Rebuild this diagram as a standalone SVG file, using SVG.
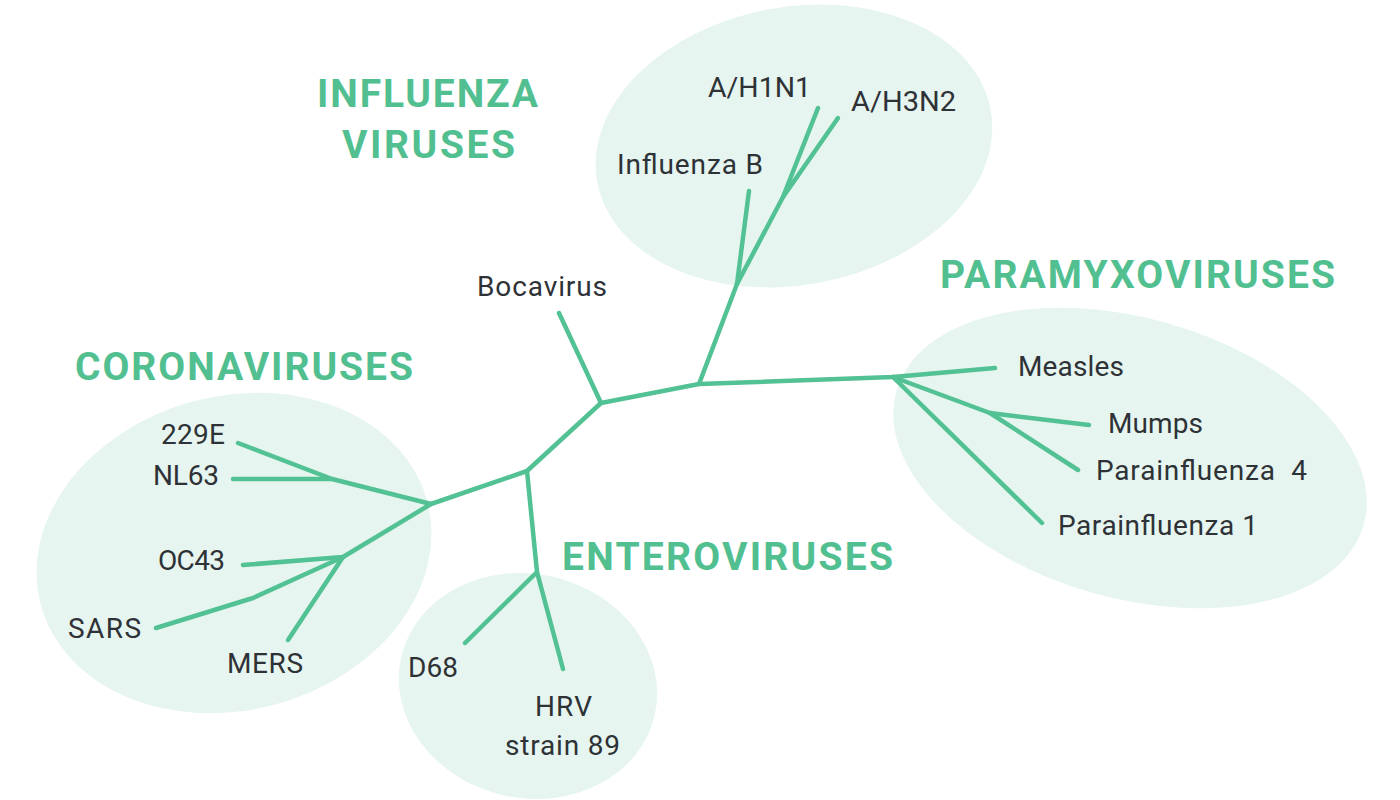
<svg xmlns="http://www.w3.org/2000/svg" width="1400" height="800" viewBox="0 0 1400 800">
<style>
.blob{fill:#e6f5ef}
.head{font-family:Roboto,"Liberation Sans",sans-serif;font-weight:bold;font-size:39px;fill:#52bf91}
.lbl{font-family:Roboto,"Liberation Sans",sans-serif;font-size:28px;fill:#2e3236}
.br{fill:none;stroke:#52c193;stroke-width:4.5;stroke-linecap:round;stroke-linejoin:round}
</style>
<rect width="1400" height="800" fill="#ffffff"/>
<g id="influenza">
<ellipse class="blob" cx="794" cy="146" rx="200" ry="139" transform="rotate(-10.4 794 146)"/>
<text class="head" x="317" y="107" textLength="221" lengthAdjust="spacing">INFLUENZA</text>
<text class="head" x="342" y="158" textLength="173" lengthAdjust="spacing">VIRUSES</text>
</g>
<g id="corona">
<ellipse class="blob" cx="234" cy="553" rx="200" ry="157" transform="rotate(-15 234 553)"/>
<text class="head" x="75" y="380" textLength="338" lengthAdjust="spacing">CORONAVIRUSES</text>
</g>
<g id="entero">
<ellipse class="blob" cx="528" cy="686" rx="130" ry="112" transform="rotate(13 528 686)"/>
<text class="head" x="562" y="570" textLength="331" lengthAdjust="spacing">ENTEROVIRUSES</text>
</g>
<g id="paramyxo">
<ellipse class="blob" cx="1130" cy="458" rx="243" ry="140" transform="rotate(16 1130 458)"/>
<text class="head" x="940" y="288" textLength="395" lengthAdjust="spacing">PARAMYXOVIRUSES</text>
</g>
<g id="connectors">
<polyline class="br" points="559,313 601,403 699,384 893,377 995,368"/>
<polyline class="br" points="601,403 527,471 431,504 332,479 238,443"/>
<polyline class="br" points="332,479 233,479"/>
<polyline class="br" points="431,504 343,557 243,565"/>
<polyline class="br" points="343,557 253,598 156,628"/>
<polyline class="br" points="343,557 288,640"/>
<polyline class="br" points="527,471 537,572 465,643"/>
<polyline class="br" points="537,572 563,669"/>
<polyline class="br" points="699,384 737,284 783,197 818,108"/>
<polyline class="br" points="783,197 838,118"/>
<polyline class="br" points="737,284 749,191"/>
<polyline class="br" points="893,377 990,413 1089,425"/>
<polyline class="br" points="990,413 1078,470"/>
<polyline class="br" points="893,377 1042,523"/>
</g>
<g id="n-h1n1"><text class="lbl" x="708" y="97" textLength="103" lengthAdjust="spacingAndGlyphs">A/H1N1</text></g>
<g id="n-h3n2"><text class="lbl" x="851" y="111" textLength="105" lengthAdjust="spacingAndGlyphs">A/H3N2</text></g>
<g id="n-flub"><text class="lbl" x="617" y="174" textLength="146" lengthAdjust="spacing">Influenza B</text></g>
<g id="n-boca"><text class="lbl" x="477" y="296" textLength="130" lengthAdjust="spacing">Bocavirus</text></g>
<g id="n-measles"><text class="lbl" x="1018" y="376" textLength="106" lengthAdjust="spacing">Measles</text></g>
<g id="n-mumps"><text class="lbl" x="1108" y="433" textLength="95" lengthAdjust="spacing">Mumps</text></g>
<g id="n-pi4"><text class="lbl" x="1096" y="480" textLength="211" lengthAdjust="spacing" xml:space="preserve">Parainfluenza  4</text></g>
<g id="n-pi1"><text class="lbl" x="1058" y="535" textLength="200" lengthAdjust="spacing">Parainfluenza 1</text></g>
<g id="n-229e"><text class="lbl" x="161" y="444" textLength="64" lengthAdjust="spacing">229E</text></g>
<g id="n-nl63"><text class="lbl" x="153" y="485" textLength="66" lengthAdjust="spacing">NL63</text></g>
<g id="n-oc43"><text class="lbl" x="158" y="570" textLength="67" lengthAdjust="spacing">OC43</text></g>
<g id="n-sars"><text class="lbl" x="68" y="638" textLength="73" lengthAdjust="spacing">SARS</text></g>
<g id="n-mers"><text class="lbl" x="227" y="673" textLength="76" lengthAdjust="spacing">MERS</text></g>
<g id="n-d68"><text class="lbl" x="408" y="677" textLength="50" lengthAdjust="spacing">D68</text></g>
<g id="n-hrv"><text class="lbl" x="535" y="716" textLength="57" lengthAdjust="spacing">HRV</text><text class="lbl" x="505" y="755" textLength="115" lengthAdjust="spacing">strain 89</text></g>
</svg>
